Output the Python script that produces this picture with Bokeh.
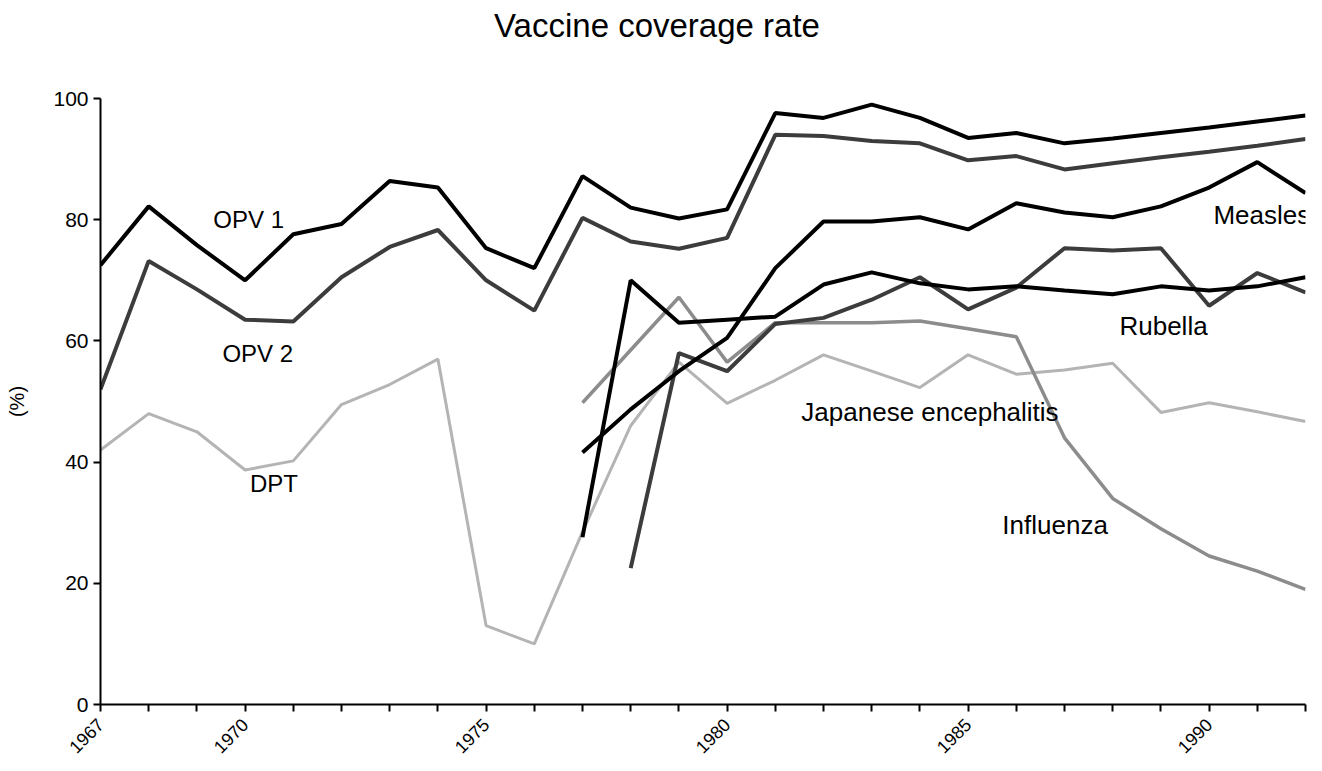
import math
from bokeh.plotting import figure
from bokeh.layouts import column
from bokeh.models import FixedTicker, Label, Div
from bokeh.embed import file_html
from bokeh.resources import INLINE

# ---------------- data ----------------
years = list(range(1967, 1993))

opv1 = [72.5, 82.2, 75.8, 70.0, 77.6, 79.3, 86.4, 85.3, 75.3, 72.0, 87.2, 82.0, 80.2, 81.7,
        97.6, 96.8, 99.0, 96.8, 93.5, 94.3, 92.6, 93.4, 94.3, 95.2, 96.2, 97.2]
opv2 = [52.0, 73.2, 68.5, 63.5, 63.2, 70.5, 75.5, 78.3, 70.0, 65.0, 80.3, 76.4, 75.2, 77.0,
        94.0, 93.8, 93.0, 92.6, 89.8, 90.5, 88.3, 89.3, 90.3, 91.2, 92.2, 93.3]
dpt = [42.0, 48.0, 45.0, 38.7, 40.2, 49.5, 52.8, 57.0, 13.0, 10.0, 28.5, 46.0, 56.5, 49.7,
       53.5, 57.7, 55.0, 52.3, 57.7, 54.5, 55.2, 56.3, 48.2, 49.8, 48.3, 46.7]

years_measles = list(range(1977, 1993))
measles = [41.6, 48.7, 55.0, 60.5, 72.0, 79.7, 79.7, 80.4, 78.4, 82.7, 81.2, 80.4, 82.2, 85.3, 89.5, 84.4]

years_rubella = list(range(1977, 1993))
rubella = [27.6, 70.0, 63.0, 63.5, 64.0, 69.3, 71.3, 69.5, 68.5, 69.0, 68.3, 67.7, 69.0, 68.3, 69.0, 70.5]

years_je = list(range(1978, 1993))
japanese_enc = [22.5, 58.0, 55.0, 62.8, 63.8, 66.8, 70.5, 65.2, 68.8, 75.3, 74.9, 75.3, 65.8, 71.2, 68.0]

years_flu = list(range(1977, 1993))
influenza = [49.8, 58.5, 67.2, 56.5, 63.0, 63.0, 63.0, 63.3, 62.0, 60.7, 44.0, 34.0, 29.0, 24.5, 22.0, 19.0]

labeled_years = [1967, 1970, 1975, 1980, 1985, 1990]
y_ticks = [0, 20, 40, 60, 80, 100]

# ---------------- figure ----------------
FONT = "Liberation Sans"
TITLE_H = 52

title_div = Div(text="Vaccine coverage rate", width=1314, height=TITLE_H, margin=(0, 0, 0, 0),
                styles={"font-family": FONT, "font-size": "33px", "color": "black",
                        "text-align": "center", "line-height": f"{TITLE_H}px",
                        "width": "1306px", "padding-left": "8px", "margin": "0px"})

p = figure(width=1314, height=763 - TITLE_H, x_range=(1967, 1992), y_range=(0, 100),
           output_backend="svg", toolbar_location=None,
           min_border_left=100, min_border_right=9, min_border_top=98 - TITLE_H,
           min_border_bottom=59, margin=(0, 0, 0, 0))
p.outline_line_color = None
p.grid.visible = False
p.background_fill_color = "white"
p.border_fill_color = "white"

# x axis
p.xaxis.ticker = FixedTicker(ticks=years)
p.xaxis.major_label_overrides = {y: (str(y) if y in labeled_years else "") for y in years}
p.xaxis.major_label_orientation = math.pi / 4
p.xaxis.major_label_text_font = FONT
p.xaxis.major_label_text_font_size = "18px"
p.xaxis.major_label_text_color = "black"
p.xaxis.major_label_standoff = 10

# y axis
p.yaxis.ticker = FixedTicker(ticks=y_ticks)
p.yaxis.major_label_text_font = FONT
p.yaxis.major_label_text_font_size = "21px"
p.yaxis.major_label_text_color = "black"
p.yaxis.major_label_standoff = 5
p.yaxis.axis_label = "(%)"
p.yaxis.axis_label_text_font = FONT
p.yaxis.axis_label_text_font_size = "20px"
p.yaxis.axis_label_text_font_style = "normal"
p.yaxis.axis_label_text_color = "black"
p.yaxis.axis_label_standoff = 22

for ax in (p.xaxis, p.yaxis):
    ax.axis_line_color = "black"
    ax.axis_line_width = 2
    ax.major_tick_line_color = "black"
    ax.major_tick_line_width = 2
    ax.major_tick_in = 0
    ax.major_tick_out = 7
    ax.minor_tick_line_color = None

# ---------------- lines ----------------
p.line(years, dpt, line_color="#b4b4b4", line_width=3)
p.line(years_flu, influenza, line_color="#8c8c8c", line_width=3.5)
p.line(years_je, japanese_enc, line_color="#3c3c3c", line_width=4)
p.line(years, opv2, line_color="#3c3c3c", line_width=4)
p.line(years_rubella, rubella, line_color="black", line_width=4)
p.line(years_measles, measles, line_color="black", line_width=4)
p.line(years, opv1, line_color="black", line_width=4)

# ---------------- annotations ----------------
def add_label(text, x, y, size="25px"):
    p.add_layout(Label(x=x, y=y, text=text, text_font=FONT, text_font_size=size,
                       text_color="black", text_align="left", text_baseline="middle"))

add_label("OPV 1", 1969.34, 80.0, size="24px")
add_label("OPV 2", 1969.53, 57.9, size="24px")
add_label("DPT", 1970.1, 36.5, size="24px")
add_label("Japanese encephalitis", 1981.54, 48.2, size="26px")
add_label("Influenza", 1985.71, 29.7, size="26px")
add_label("Rubella", 1988.14, 62.4, size="26px")
add_label("Measles", 1990.09, 80.8, size="26px")

layout = column(title_div, p, spacing=0)
open("out.html", "w").write(file_html(layout, INLINE))
